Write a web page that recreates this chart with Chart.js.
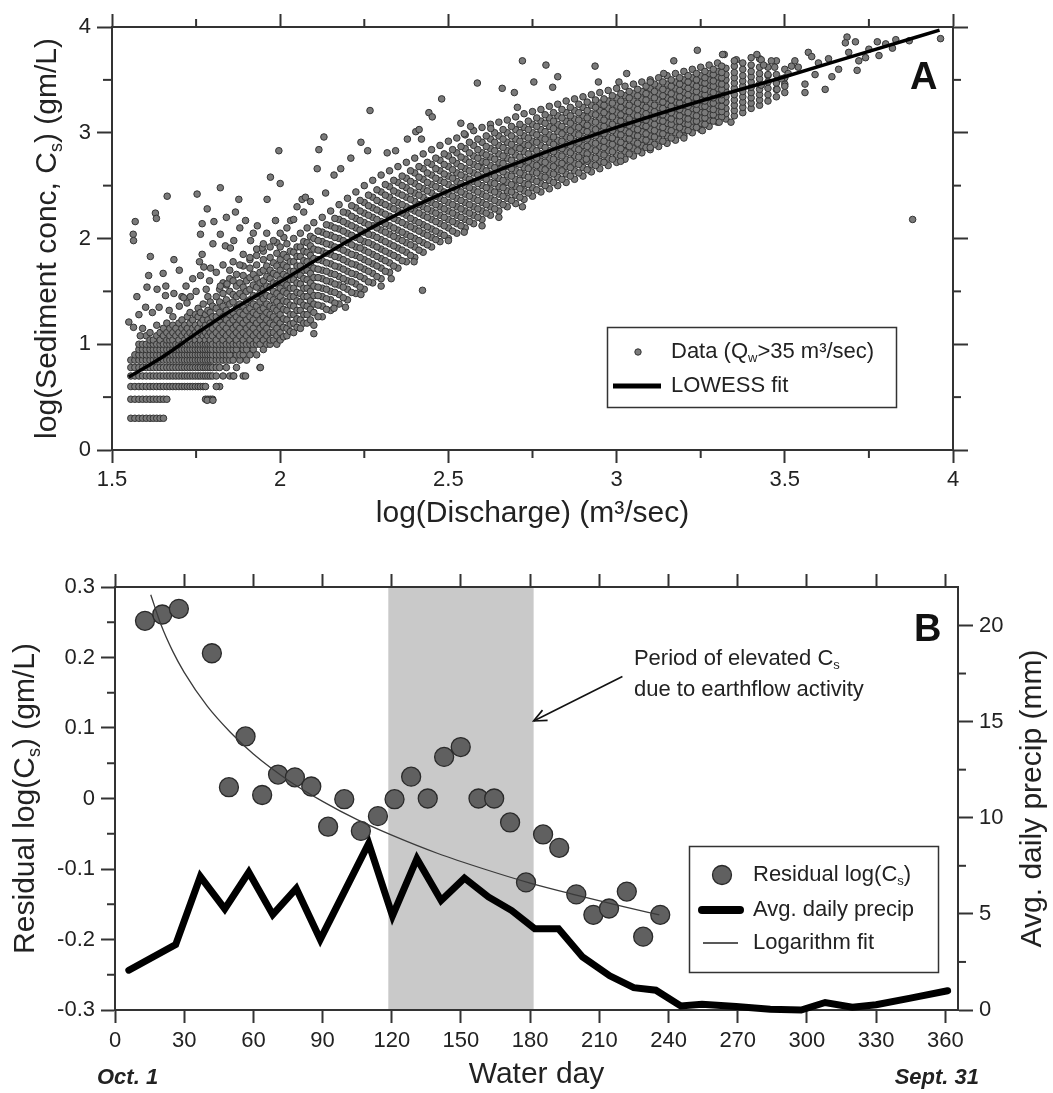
<!DOCTYPE html>
<html><head><meta charset="utf-8">
<script src="https://cdn.jsdelivr.net/npm/chart.js@4.4.1/dist/chart.umd.min.js"></script>
<style>
html,body{margin:0;padding:0;background:#fff;}
#wrap{position:relative;width:1053px;height:1093px;overflow:hidden;}
canvas{position:absolute;left:0;}
#ca{top:0;} #cb{top:545px;}
</style></head><body>
<div id="wrap"><canvas id="ca" width="1053" height="545"></canvas><canvas id="cb" width="1053" height="548"></canvas></div>
<script>
// ---------------- Panel A data ----------------
// columns: [logQ, logCs values...]
const lowColumns = [
[1.556,0.30,0.48,0.60,0.70,0.78,0.85],
[1.568,0.30,0.48,0.60,0.70,0.78,0.85,0.90],
[1.580,0.30,0.48,0.60,0.70,0.78,0.85,0.90,0.95,1.00],
[1.591,0.30,0.48,0.60,0.70,0.78,0.85,0.90,0.95,1.00,1.15],
[1.602,0.30,0.48,0.60,0.70,0.78,0.85,0.90,0.95,1.00,1.08],
[1.613,0.30,0.48,0.60,0.70,0.78,0.85,0.90,0.95,1.00,1.04,1.11],
[1.623,0.30,0.48,0.60,0.70,0.78,0.85,0.90,0.95,1.00,1.04],
[1.633,0.30,0.48,0.60,0.70,0.78,0.85,0.90,0.95,1.00,1.08,1.18],
[1.643,0.30,0.48,0.60,0.70,0.78,0.85,0.90,0.95,1.00,1.04,1.11],
[1.653,0.30,0.48,0.60,0.70,0.78,0.85,0.90,0.95,1.00,1.08,1.15],
[1.663,0.48,0.60,0.70,0.78,0.85,0.90,0.95,1.00,1.04,1.11,1.20],
[1.672,0.60,0.70,0.78,0.85,0.90,0.95,1.00,1.04,1.08,1.15],
[1.681,0.60,0.70,0.78,0.85,0.90,0.95,1.00,1.04,1.11,1.18,1.26],
[1.690,0.60,0.70,0.78,0.85,0.90,0.95,1.00,1.08,1.15],
[1.699,0.60,0.70,0.78,0.85,0.90,0.95,1.00,1.04,1.11,1.20],
[1.708,0.60,0.70,0.78,0.85,0.90,0.95,1.00,1.08,1.15,1.23],
[1.716,0.60,0.70,0.78,0.85,0.90,0.95,1.00,1.04,1.11,1.18],
[1.724,0.60,0.70,0.78,0.85,0.90,0.95,1.00,1.08,1.15,1.26],
[1.732,0.60,0.70,0.78,0.85,0.90,0.95,1.00,1.04,1.11,1.20,1.30],
[1.740,0.60,0.70,0.78,0.85,0.90,0.95,1.00,1.08,1.15,1.23],
[1.748,0.60,0.70,0.78,0.85,0.90,0.95,1.00,1.04,1.11,1.18,1.28],
[1.756,0.60,0.70,0.78,0.85,0.90,0.95,1.00,1.08,1.15,1.26,1.34],
[1.763,0.60,0.70,0.78,0.85,0.90,0.95,1.00,1.04,1.11,1.20,1.30],
[1.771,0.60,0.70,0.78,0.85,0.90,0.95,1.00,1.08,1.15,1.23,1.38],
[1.778,0.48,0.60,0.70,0.78,0.85,0.90,0.95,1.00,1.04,1.11,1.18,1.28],
[1.785,0.48,0.70,0.78,0.85,0.90,0.95,1.00,1.08,1.15,1.23,1.32,1.45],
[1.792,0.48,0.70,0.78,0.85,0.90,0.95,1.00,1.04,1.11,1.20,1.30,1.40],
[1.799,0.48,0.70,0.78,0.85,0.90,0.95,1.00,1.08,1.15,1.26,1.36]
];
const bandColumns = [
[1.81,0.70,0.78,0.85,0.90,0.95,1.00,1.04,1.11,1.18,1.26,1.34,1.45],
[1.82,0.60,0.78,0.85,0.90,0.95,1.00,1.08,1.15,1.23,1.30,1.40,1.52],
[1.83,0.70,0.85,0.90,0.95,1.00,1.04,1.11,1.18,1.26,1.36,1.48,1.58],
[1.84,0.78,0.85,0.90,0.95,1.00,1.08,1.15,1.23,1.32,1.42,1.56],
[1.85,0.70,0.85,0.90,0.95,1.00,1.04,1.11,1.20,1.28,1.38,1.50,1.62],
[1.86,0.70,0.85,0.95,1.00,1.08,1.15,1.23,1.30,1.40,1.47,1.60],
[1.87,0.78,0.90,0.95,1.00,1.04,1.11,1.18,1.26,1.34,1.45,1.55,1.66],
[1.88,0.85,0.90,1.00,1.08,1.15,1.23,1.30,1.38,1.48,1.58],
[1.89,0.70,0.90,0.95,1.00,1.04,1.11,1.20,1.28,1.36,1.45,1.54,1.65,1.74],
[1.90,0.85,0.95,1.00,1.08,1.15,1.23,1.32,1.40,1.50,1.60],
[1.91,0.90,1.00,1.04,1.11,1.18,1.26,1.34,1.42,1.52,1.63,1.72,1.80],
[1.92,0.95,1.00,1.08,1.15,1.23,1.30,1.38,1.46,1.56,1.66],
[1.93,0.90,1.00,1.04,1.11,1.20,1.28,1.36,1.45,1.54,1.62,1.75,1.84],
[1.94,0.78,1.00,1.08,1.15,1.23,1.32,1.40,1.48,1.58,1.68],
[1.95,0.95,1.04,1.11,1.18,1.26,1.34,1.43,1.52,1.60,1.70,1.80,1.88],
[1.96,1.00,1.08,1.15,1.23,1.30,1.38,1.46,1.55,1.64,1.74],
[1.97,1.00,1.04,1.11,1.20,1.28,1.36,1.45,1.54,1.62,1.70,1.82,1.92],
[1.98,1.04,1.11,1.18,1.26,1.34,1.42,1.50,1.58,1.67,1.77],
[1.99,1.00,1.08,1.15,1.23,1.32,1.40,1.48,1.57,1.65,1.74,1.86,1.96],
[2.00,1.04,1.11,1.20,1.28,1.36,1.45,1.53,1.61,1.70,1.80,1.92],
[2.01,1.07,1.16,1.24,1.33,1.41,1.50,1.58,1.66,1.75,1.85],
[2.02,1.08,1.15,1.23,1.32,1.40,1.48,1.56,1.64,1.73,1.82,1.95],
[2.03,1.12,1.19,1.28,1.37,1.45,1.53,1.61,1.69,1.78,1.88],
[2.04,1.11,1.20,1.28,1.36,1.45,1.53,1.61,1.69,1.78,1.87,2.00],
[2.05,1.16,1.24,1.32,1.41,1.49,1.58,1.66,1.74,1.83,1.92],
[2.06,1.15,1.23,1.32,1.40,1.48,1.57,1.65,1.74,1.83,1.92,2.05],
[2.07,1.20,1.28,1.37,1.45,1.53,1.62,1.70,1.79,1.88,1.97],
[2.08,1.20,1.28,1.36,1.45,1.53,1.61,1.70,1.78,1.87,1.96,2.10],
[2.09,1.23,1.33,1.41,1.50,1.58,1.67,1.75,1.84,1.93,2.02],
[2.10,1.18,1.30,1.38,1.46,1.55,1.63,1.72,1.81,1.90,2.00,2.15],
[2.125,1.26,1.36,1.45,1.53,1.62,1.70,1.79,1.88,1.97,2.06,2.20],
[2.15,1.32,1.42,1.50,1.59,1.67,1.76,1.85,1.94,2.03,2.12,2.26],
[2.175,1.38,1.47,1.56,1.64,1.73,1.82,1.91,2.00,2.09,2.18,2.32],
[2.20,1.42,1.52,1.60,1.69,1.78,1.87,1.96,2.05,2.14,2.24,2.38],
[2.225,1.48,1.57,1.66,1.75,1.84,1.92,2.01,2.10,2.19,2.29,2.44],
[2.25,1.52,1.62,1.71,1.80,1.89,1.97,2.06,2.15,2.24,2.34,2.50],
[2.275,1.58,1.67,1.76,1.85,1.94,2.03,2.12,2.20,2.29,2.39,2.55],
[2.30,1.62,1.72,1.81,1.90,1.99,2.08,2.16,2.25,2.34,2.44,2.60],
[2.325,1.68,1.77,1.86,1.95,2.04,2.12,2.21,2.30,2.39,2.49,2.64],
[2.35,1.72,1.82,1.91,2.00,2.08,2.17,2.26,2.34,2.43,2.53,2.68],
[2.375,1.78,1.87,1.96,2.04,2.13,2.22,2.30,2.39,2.48,2.57,2.72],
[2.40,1.82,1.92,2.00,2.09,2.17,2.26,2.35,2.43,2.52,2.62,2.76],
[2.425,1.87,1.96,2.05,2.13,2.22,2.30,2.39,2.47,2.56,2.66,2.80],
[2.45,1.92,2.01,2.09,2.18,2.26,2.34,2.43,2.51,2.60,2.70,2.84],
[2.475,1.97,2.05,2.14,2.22,2.30,2.38,2.47,2.55,2.64,2.74,2.88],
[2.50,2.00,2.10,2.18,2.26,2.34,2.42,2.51,2.59,2.68,2.78,2.92],
[2.525,2.05,2.14,2.22,2.30,2.38,2.46,2.54,2.62,2.71,2.81,2.95],
[2.55,2.10,2.18,2.26,2.34,2.42,2.50,2.58,2.66,2.75,2.85,2.98],
[2.575,2.14,2.22,2.30,2.38,2.46,2.54,2.62,2.70,2.78,2.88,3.02],
[2.60,2.18,2.26,2.34,2.42,2.50,2.58,2.66,2.73,2.81,2.91,3.05],
[2.625,2.22,2.30,2.38,2.46,2.53,2.61,2.69,2.77,2.85,2.94,3.08],
[2.65,2.26,2.34,2.42,2.49,2.57,2.65,2.72,2.80,2.88,2.97,3.10],
[2.675,2.30,2.38,2.45,2.53,2.60,2.68,2.76,2.83,2.91,3.00,3.12],
[2.70,2.33,2.41,2.49,2.56,2.64,2.71,2.79,2.86,2.94,3.03,3.15],
[2.725,2.37,2.45,2.52,2.60,2.67,2.74,2.82,2.89,2.97,3.05,3.18],
[2.75,2.40,2.48,2.56,2.63,2.70,2.77,2.85,2.92,3.00,3.08,3.20],
[2.775,2.44,2.52,2.59,2.66,2.73,2.80,2.88,2.95,3.03,3.11,3.22],
[2.80,2.47,2.55,2.62,2.69,2.76,2.83,2.91,2.98,3.06,3.14,3.25],
[2.825,2.50,2.58,2.65,2.72,2.79,2.86,2.93,3.01,3.08,3.16,3.27],
[2.85,2.53,2.61,2.68,2.75,2.82,2.89,2.96,3.03,3.11,3.19,3.30],
[2.875,2.56,2.64,2.71,2.78,2.85,2.92,2.99,3.06,3.13,3.21,3.32],
[2.90,2.59,2.67,2.74,2.81,2.88,2.95,3.02,3.09,3.16,3.24,3.34],
[2.925,2.63,2.70,2.77,2.84,2.91,2.98,3.04,3.11,3.18,3.26,3.36],
[2.95,2.66,2.73,2.80,2.87,2.94,3.00,3.07,3.14,3.21,3.28,3.38],
[2.975,2.69,2.76,2.83,2.90,2.96,3.03,3.10,3.16,3.23,3.30,3.40],
[3.00,2.72,2.79,2.86,2.93,2.99,3.06,3.12,3.19,3.26,3.33,3.42],
[3.025,2.75,2.82,2.89,2.95,3.02,3.08,3.15,3.21,3.28,3.35,3.44],
[3.05,2.78,2.85,2.92,2.98,3.04,3.11,3.17,3.24,3.30,3.37,3.46],
[3.075,2.81,2.88,2.94,3.01,3.07,3.13,3.20,3.26,3.32,3.39,3.48],
[3.10,2.84,2.91,2.97,3.03,3.10,3.16,3.22,3.28,3.35,3.42,3.50],
[3.125,2.87,2.94,3.00,3.06,3.12,3.18,3.24,3.31,3.37,3.44,3.52],
[3.15,2.90,2.97,3.03,3.09,3.15,3.21,3.27,3.33,3.39,3.46,3.54],
[3.175,2.93,3.00,3.06,3.11,3.17,3.23,3.29,3.35,3.42,3.48,3.56],
[3.20,2.97,3.03,3.09,3.14,3.20,3.26,3.32,3.38,3.44,3.50,3.58],
[3.225,3.00,3.06,3.11,3.17,3.23,3.28,3.34,3.40,3.46,3.52,3.60],
[3.25,3.03,3.09,3.14,3.20,3.25,3.31,3.37,3.42,3.48,3.54,3.62],
[3.275,3.06,3.12,3.17,3.23,3.28,3.34,3.39,3.45,3.50,3.56,3.64],
[3.30,3.10,3.15,3.20,3.26,3.31,3.36,3.42,3.47,3.53,3.58,3.66],
[3.325,3.13,3.18,3.23,3.29,3.34,3.39,3.44,3.50,3.55,3.61],
[3.35,3.16,3.21,3.26,3.31,3.36,3.42,3.47,3.52,3.57,3.63],
[3.375,3.19,3.24,3.29,3.34,3.39,3.44,3.49,3.54,3.60,3.66],
[3.40,3.23,3.28,3.33,3.38,3.43,3.48,3.53,3.58,3.64],
[3.425,3.26,3.31,3.36,3.41,3.46,3.51,3.56,3.62,3.70],
[3.45,3.30,3.36,3.42,3.48,3.54,3.62],
[3.475,3.34,3.41,3.47,3.55,3.68],
[3.50,3.38,3.46,3.52,3.60]
];
const midColumns = [
[2.1125,1.26,1.37,1.46,1.54,1.63,1.71,1.80,1.89,1.98,2.07],
[2.1375,1.33,1.43,1.52,1.60,1.69,1.77,1.86,1.95,2.04,2.13],
[2.1625,1.39,1.49,1.57,1.66,1.74,1.83,1.92,2.01,2.10,2.19],
[2.1875,1.44,1.54,1.62,1.71,1.80,1.89,1.98,2.07,2.16,2.25],
[2.2125,1.49,1.59,1.67,1.76,1.85,1.94,2.03,2.12,2.21,2.31],
[2.2375,1.54,1.64,1.73,1.82,1.91,1.99,2.08,2.17,2.26,2.36],
[2.2625,1.59,1.69,1.78,1.87,1.96,2.04,2.13,2.22,2.31,2.41],
[2.2875,1.64,1.74,1.83,1.92,2.01,2.10,2.18,2.27,2.36,2.46],
[2.3125,1.69,1.79,1.88,1.97,2.06,2.14,2.23,2.32,2.41,2.51],
[2.3375,1.74,1.84,1.93,2.02,2.10,2.19,2.28,2.36,2.45,2.55],
[2.3625,1.79,1.89,1.98,2.06,2.15,2.24,2.32,2.41,2.50,2.59],
[2.3875,1.84,1.94,2.02,2.11,2.19,2.28,2.37,2.45,2.54,2.64],
[2.4125,1.89,1.98,2.07,2.15,2.24,2.32,2.41,2.49,2.58,2.68],
[2.4375,1.94,2.03,2.11,2.20,2.28,2.36,2.45,2.53,2.62,2.72],
[2.4625,1.99,2.07,2.16,2.24,2.32,2.40,2.49,2.57,2.66,2.76],
[2.4875,2.03,2.12,2.20,2.28,2.36,2.44,2.53,2.61,2.70,2.80],
[2.5125,2.07,2.16,2.24,2.32,2.40,2.48,2.57,2.65,2.74,2.84],
[2.5375,2.12,2.20,2.28,2.36,2.44,2.52,2.60,2.68,2.77,2.87],
[2.5625,2.16,2.24,2.32,2.40,2.48,2.56,2.64,2.72,2.81,2.91],
[2.5875,2.20,2.28,2.36,2.44,2.52,2.60,2.68,2.76,2.84,2.94],
[2.6125,2.24,2.32,2.40,2.48,2.56,2.64,2.72,2.79,2.87,2.97],
[2.6375,2.28,2.36,2.44,2.52,2.59,2.67,2.75,2.83,2.91,3.00],
[2.6625,2.32,2.40,2.48,2.55,2.63,2.71,2.78,2.86,2.94,3.03],
[2.6875,2.36,2.44,2.51,2.59,2.66,2.74,2.82,2.89,2.97,3.06],
[2.7125,2.39,2.47,2.55,2.62,2.70,2.77,2.85,2.92,3.00,3.08],
[2.7375,2.43,2.51,2.58,2.66,2.73,2.80,2.88,2.95,3.03,3.11],
[2.7625,2.46,2.54,2.62,2.69,2.76,2.83,2.91,2.98,3.06,3.14],
[2.7875,2.50,2.58,2.65,2.72,2.79,2.86,2.94,3.01,3.09,3.17],
[2.8125,2.53,2.61,2.68,2.75,2.82,2.89,2.96,3.04,3.11,3.19],
[2.8375,2.56,2.64,2.71,2.78,2.85,2.92,2.99,3.06,3.14,3.22],
[2.8625,2.59,2.67,2.74,2.81,2.88,2.95,3.02,3.09,3.16,3.24],
[2.8875,2.62,2.70,2.77,2.84,2.91,2.98,3.05,3.12,3.19,3.27],
[2.9125,2.65,2.73,2.80,2.87,2.94,3.01,3.07,3.14,3.21,3.29],
[2.9375,2.69,2.76,2.83,2.90,2.97,3.03,3.10,3.17,3.24,3.31],
[2.9625,2.72,2.79,2.86,2.92,2.99,3.06,3.12,3.19,3.26,3.32],
[2.9875,2.75,2.82,2.89,2.95,3.02,3.08,3.15,3.21,3.28,3.35],
[3.0125,2.78,2.85,2.91,2.98,3.04,3.11,3.17,3.24,3.30,3.37],
[3.0375,2.80,2.87,2.94,3.00,3.07,3.13,3.20,3.26,3.33,3.39],
[3.0625,2.83,2.90,2.97,3.03,3.09,3.16,3.22,3.28,3.35,3.41],
[3.0875,2.86,2.93,2.99,3.06,3.12,3.18,3.24,3.31,3.37,3.44],
[3.1125,2.89,2.96,3.02,3.08,3.14,3.20,3.26,3.33,3.39,3.46],
[3.1375,2.92,2.99,3.05,3.11,3.17,3.23,3.29,3.35,3.41,3.48],
[3.1625,2.95,3.02,3.08,3.13,3.19,3.25,3.31,3.37,3.44,3.50],
[3.1875,2.98,3.05,3.11,3.16,3.22,3.28,3.34,3.40,3.46,3.52],
[3.2125,3.02,3.08,3.13,3.19,3.25,3.30,3.36,3.42,3.48,3.54],
[3.2375,3.05,3.11,3.16,3.22,3.27,3.33,3.39,3.44,3.50,3.56],
[3.2625,3.08,3.14,3.19,3.25,3.30,3.36,3.41,3.47,3.52,3.58],
[3.2875,3.11,3.17,3.22,3.28,3.33,3.38,3.44,3.49,3.55,3.60],
[3.3125,3.15,3.20,3.25,3.31,3.36,3.41,3.46,3.52,3.57,3.63]
];
const outlierX = [1.569,1.563,1.564,1.629,1.632,1.664,1.684,1.614,1.609,1.652,1.634,1.604,1.574,1.659,1.684,1.708,1.733,1.753,1.763,1.768,1.783,1.803,1.822,1.822,1.837,1.852,1.862,1.867,1.877,1.897,1.912,1.932,1.946,1.961,1.971,1.986,1.996,2.000,2.011,2.031,1.768,1.773,1.793,1.763,1.822,1.842,1.713,1.723,1.550,1.564,1.584,
1.62,1.64,1.67,1.70,1.72,1.74,1.75,1.78,1.79,1.81,1.83,1.85,1.86,1.88,1.89,1.91,1.93,1.95,1.96,1.98,2.00,2.02,2.04,2.05,2.07,2.09,1.92,1.88,1.84,1.80,1.76,1.70,1.66,1.60,1.58,
2.065,2.075,2.11,2.115,2.13,2.135,2.16,2.18,2.21,2.24,2.267,2.26,2.318,2.343,2.378,2.403,2.413,2.42,2.442,2.452,2.48,2.537,2.566,2.586,2.626,2.66,2.696,2.705,2.547,
2.423,2.398,2.547,2.24,2.16,2.194,1.941,1.897,1.862,1.81,1.783,1.80,2.10,2.30,2.33,2.50,2.60,2.65,
2.72,2.79,2.825,2.936,2.946,3.007,3.03,3.10,3.14,3.17,3.24,3.32,3.356,2.754,2.81,3.315,3.35,3.40,3.417,3.43,3.437,
3.012,3.255,3.305,3.34,2.91,2.72,3.20,3.10,
3.43,3.477,3.49,3.51,3.52,3.53,3.57,3.56,3.56,3.59,3.62,3.64,3.685,3.71,3.69,3.72,3.715,3.74,3.775,3.80,3.83,3.87,3.88,3.963,3.54,3.60,3.66,3.68,3.50,3.47,3.45,3.46,3.58,3.63,3.75,3.78,3.82];
const outlierY = [2.16,2.04,1.98,2.24,2.19,2.40,1.80,1.83,1.65,1.67,1.52,1.54,1.45,1.46,1.48,1.45,1.45,2.42,2.04,2.14,2.28,2.16,2.48,2.04,1.93,1.91,1.98,2.25,2.37,2.17,1.98,2.12,1.91,2.37,2.58,2.17,2.83,2.52,2.01,2.17,1.85,1.73,1.72,1.65,1.55,1.57,1.44,1.39,1.21,1.16,1.08,
1.30,1.35,1.32,1.36,1.55,1.62,1.50,1.52,1.60,1.68,1.75,1.70,1.78,1.75,1.85,1.82,1.90,1.95,2.05,1.98,2.05,2.10,2.18,2.30,2.25,2.35,2.05,2.10,2.20,1.95,1.78,1.70,1.55,1.35,1.28,
2.37,2.39,2.66,2.84,2.96,2.43,2.60,2.66,2.76,2.91,3.21,2.83,2.81,2.83,2.94,3.01,3.03,2.94,3.19,3.15,3.32,3.09,3.06,3.47,3.04,3.42,3.38,3.24,2.99,
1.51,1.78,2.06,1.47,1.34,1.35,0.78,0.70,0.70,0.60,0.47,0.47,1.10,1.55,1.62,1.98,2.12,2.20,
3.68,3.64,3.53,3.63,3.48,3.48,3.56,3.48,3.56,3.68,3.78,3.74,3.69,3.48,3.43,3.74,3.68,3.71,3.74,3.69,3.64,
2.73,3.02,3.10,3.10,2.75,2.30,2.95,2.86,
3.45,3.41,3.51,3.56,3.63,3.68,3.76,3.46,3.38,3.55,3.41,3.53,3.905,3.86,3.76,3.68,3.59,3.71,3.86,3.84,3.88,3.87,2.18,3.89,3.62,3.66,3.60,3.85,3.44,3.62,3.55,3.68,3.72,3.70,3.79,3.73,3.80];
const lowessX = [1.55,1.65,1.75,1.85,2.00,2.15,2.30,2.50,2.75,3.00,3.25,3.50,3.75,3.96];
const lowessY = [0.69,0.88,1.10,1.31,1.59,1.88,2.15,2.45,2.77,3.05,3.30,3.53,3.77,3.97];
const aXMajor = [1.5,2,2.5,3,3.5,4];
const aXLabels = ['1.5','2','2.5','3','3.5','4'];
const aXMinor = [1.75,2.25,2.75,3.25,3.75];
const aYMajor = [0,1,2,3,4];
const aYLabels = ['0','1','2','3','4'];
const aYMinor = [0.5,1.5,2.5,3.5];

// ---------------- Panel B data ----------------
const residDay = [13,20.5,27.7,42,49.4,56.6,63.8,70.7,78,85.1,92.4,99.4,106.6,114,121.2,128.4,135.6,142.7,149.9,157.6,164.4,171.3,178.2,185.6,192.6,200,207.4,214.2,221.9,229,236.4];
const residVal = [0.252,0.261,0.269,0.206,0.016,0.088,0.005,0.034,0.030,0.017,-0.040,-0.001,-0.046,-0.025,-0.001,0.031,0.000,0.059,0.073,0.000,0.000,-0.034,-0.119,-0.051,-0.070,-0.136,-0.165,-0.156,-0.132,-0.196,-0.165];
const fitDay = [15.5,20,25,30,40,50,60,75,90,105,120,140,160,180,200,220,236];
const fitVal = [0.289,0.246,0.209,0.179,0.131,0.094,0.063,0.026,-0.004,-0.030,-0.052,-0.078,-0.100,-0.120,-0.137,-0.153,-0.165];
const precipDay = [6,26.3,37,47.6,58,68.4,78.6,89,110,120.3,130.9,141.4,151.5,161.9,172,182,192.3,202.7,214.5,224.9,234.5,245.3,254.5,269.3,284.1,297.5,307.9,319.7,330,344.9,361];
const precipMm = [2.07,3.40,6.94,5.26,7.16,4.96,6.32,3.67,8.66,4.90,7.87,5.70,6.86,5.88,5.17,4.23,4.23,2.76,1.78,1.16,1.03,0.21,0.30,0.18,0.04,0.00,0.39,0.14,0.27,0.62,1.00];
const shadeDays = [118.5,181.5];
const bXMajor = [0,30,60,90,120,150,180,210,240,270,300,330,360];
const bXLabels = ['0','30','60','90','120','150','180','210','240','270','300','330','360'];
const bYMajor = [-0.3,-0.2,-0.1,0,0.1,0.2,0.3];
const bYLabels = ['-0.3','-0.2','-0.1','0','0.1','0.2','0.3'];
const bYMinor = [-0.25,-0.15,-0.05,0.05,0.15,0.25];
const bY2Major = [0,5,10,15,20];
const bY2Labels = ['0','5','10','15','20'];
const bY2Minor = [2.5,7.5,12.5,17.5];
const annoPos = [225, 0.198, 0.154];       // day, line1 value, line2 value
const arrowFrom = [220, 0.173], arrowTo = [181.5, 0.110];

// ---------------- helpers ----------------
const FONT = "'Liberation Sans', Arial, Helvetica, sans-serif";
const near = (a, b) => Math.abs(a - b) < 1e-9;

function rich(ctx, parts, x, y, size, align, rot, style) {
  ctx.save();
  ctx.translate(x, y);
  if (rot) ctx.rotate(rot);
  ctx.fillStyle = '#222';
  ctx.textBaseline = 'middle';
  ctx.textAlign = 'left';
  const fontOf = sub => (style ? style + ' ' : '') + Math.round(sub ? size * 0.6 : size) + 'px ' + FONT;
  const widths = parts.map(p => { ctx.font = fontOf(p[1]); return ctx.measureText(p[0]).width; });
  const total = widths.reduce((a, b) => a + b, 0);
  let cx = align === 'center' ? -total / 2 : (align === 'right' ? -total : 0);
  parts.forEach((p, i) => { ctx.font = fontOf(p[1]); ctx.fillText(p[0], cx, p[1] ? size * 0.3 : 0); cx += widths[i]; });
  ctx.restore();
}

function mkAxis(o) {
  const major = o.major, minor = o.minor || [], labels = o.labels;
  const all = major.concat(minor).sort((a, b) => a - b);
  return {
    type: 'linear', axis: o.axis, position: o.position, min: o.min, max: o.max,
    afterBuildTicks: s => { s.ticks = all.map(v => ({value: v})); },
    afterFit: s => { if (o.axis === 'x') s.height = o.size; else s.width = o.size; },
    ticks: {
      display: !!labels, autoSkip: false, maxRotation: 0, minRotation: 0,
      padding: o.pad || 0, color: '#222', font: {family: FONT, size: 22},
      callback: v => { if (!labels) return ''; const i = major.findIndex(m => near(m, v)); return i >= 0 ? labels[i] : ''; }
    },
    grid: {
      display: true, drawOnChartArea: false, drawTicks: true, tickLength: o.tl, tickWidth: 2,
      color: 'rgba(0,0,0,0)',
      tickColor: c => (c.tick && major.some(m => near(m, c.tick.value))) ? '#333' : 'rgba(0,0,0,0)'
    },
    border: {display: true, color: '#333', width: 2},
    title: o.title ? {display: true, text: o.title, color: '#222', font: {family: FONT, size: 30}, padding: o.titlePad} : {display: false}
  };
}

function minorTickPlugin(list) {
  return {
    id: 'minorTicks',
    afterDraw(chart) {
      const ctx = chart.ctx;
      ctx.save(); ctx.strokeStyle = '#333'; ctx.lineWidth = 2;
      list.forEach(([id, vals, len]) => {
        const s = chart.scales[id];
        vals.forEach(v => {
          const p = s.getPixelForValue(v);
          ctx.beginPath();
          if (s.position === 'bottom') { ctx.moveTo(p, s.top); ctx.lineTo(p, s.top + len); }
          else if (s.position === 'top') { ctx.moveTo(p, s.bottom); ctx.lineTo(p, s.bottom - len); }
          else if (s.position === 'left') { ctx.moveTo(s.right, p); ctx.lineTo(s.right - len, p); }
          else { ctx.moveTo(s.left, p); ctx.lineTo(s.left + len, p); }
          ctx.stroke();
        });
      });
      ctx.restore();
    }
  };
}

// ---------------- Panel A ----------------
const scatterPts = [];
[lowColumns, bandColumns, midColumns].forEach(tbl => tbl.forEach(col => {
  for (let k = 1; k < col.length; k++) scatterPts.push({x: col[0], y: col[k]});
}));
outlierX.forEach((x, i) => scatterPts.push({x, y: outlierY[i]}));
const lowessPts = lowessX.map((x, i) => ({x, y: lowessY[i]}));

const decoA = {
  id: 'decoA',
  afterDraw(chart) {
    const {ctx, chartArea: ca} = chart;
    rich(ctx, [['log(Sediment conc, C'], ['s', 1], [') (gm/L)']], 48, (ca.top + ca.bottom) / 2, 30, 'center', -Math.PI / 2);
    ctx.save();
    ctx.font = 'bold 38px ' + FONT; ctx.fillStyle = '#111'; ctx.textAlign = 'left'; ctx.textBaseline = 'alphabetic';
    ctx.fillText('A', 910, 89);
    ctx.strokeStyle = '#333'; ctx.lineWidth = 1.5; ctx.strokeRect(607.5, 327.5, 289, 80);
    ctx.beginPath(); ctx.arc(638, 352, 3.2, 0, Math.PI * 2);
    ctx.fillStyle = '#7a7a7a'; ctx.fill(); ctx.strokeStyle = '#333'; ctx.lineWidth = 1; ctx.stroke();
    ctx.beginPath(); ctx.moveTo(613, 386); ctx.lineTo(661, 386); ctx.lineWidth = 5; ctx.strokeStyle = '#000'; ctx.stroke();
    ctx.restore();
    rich(ctx, [['Data (Q'], ['w', 1], ['>35 m³/sec)']], 671, 352, 22, 'left', 0);
    rich(ctx, [['LOWESS fit']], 671, 386, 22, 'left', 0);
  }
};

new Chart(document.getElementById('ca'), {
  type: 'scatter',
  data: {datasets: [
    {label: 'LOWESS fit', data: lowessPts, showLine: true, borderColor: '#000', borderWidth: 3.5, pointRadius: 0, cubicInterpolationMode: 'monotone', order: 0},
    {label: 'Data (Qw>35 m³/sec)', data: scatterPts, pointRadius: 3.3, pointBackgroundColor: '#7a7a7a', pointBorderColor: '#333', pointBorderWidth: 1, order: 1}
  ]},
  options: {
    responsive: false, animation: false, events: [], devicePixelRatio: 1,
    layout: {padding: 0},
    plugins: {legend: {display: false}, tooltip: {enabled: false}},
    scales: {
      x: mkAxis({axis: 'x', position: 'bottom', min: 1.5, max: 4, major: aXMajor, minor: aXMinor, labels: aXLabels, size: 95, tl: 13, pad: 4,
        title: 'log(Discharge) (m³/sec)', titlePad: {top: 0, bottom: 13}}),
      xTop: mkAxis({axis: 'x', position: 'top', min: 1.5, max: 4, major: aXMajor, minor: aXMinor, size: 27, tl: 13}),
      y: mkAxis({axis: 'y', position: 'left', min: 0, max: 4, major: aYMajor, minor: aYMinor, labels: aYLabels, size: 112, tl: 15, pad: 6}),
      yRight: mkAxis({axis: 'y', position: 'right', min: 0, max: 4, major: aYMajor, minor: aYMinor, size: 100, tl: 15})
    }
  },
  plugins: [minorTickPlugin([['x', aXMinor, 8], ['xTop', aXMinor, 8], ['y', aYMinor, 9], ['yRight', aYMinor, 8]]), decoA]
});

// ---------------- Panel B ----------------
const residPts = residDay.map((x, i) => ({x, y: residVal[i]}));
const fitPts = fitDay.map((x, i) => ({x, y: fitVal[i]}));
const precipPts = precipDay.map((x, i) => ({x, y: precipMm[i]}));

const decoB = {
  id: 'decoB',
  beforeDraw(chart) {
    const {ctx, chartArea: ca, scales} = chart;
    const x1 = scales.x.getPixelForValue(shadeDays[0]), x2 = scales.x.getPixelForValue(shadeDays[1]);
    ctx.save(); ctx.fillStyle = '#c9c9c9'; ctx.fillRect(x1, ca.top, x2 - x1, ca.bottom - ca.top); ctx.restore();
  },
  afterDraw(chart) {
    const {ctx, chartArea: ca, scales} = chart;
    const cy = (ca.top + ca.bottom) / 2;
    rich(ctx, [['Residual log(C'], ['s', 1], [') (gm/L)']], 26, cy, 30, 'center', -Math.PI / 2);
    rich(ctx, [['Avg. daily precip (mm)']], 1033, cy, 30, 'center', -Math.PI / 2);
    ctx.save();
    ctx.font = 'bold 38px ' + FONT; ctx.fillStyle = '#111'; ctx.textAlign = 'left'; ctx.textBaseline = 'alphabetic';
    ctx.fillText('B', 914, 96);
    ctx.font = 'italic bold 22px ' + FONT; ctx.fillStyle = '#222';
    ctx.fillText('Oct. 1', 97, 539);
    ctx.textAlign = 'right'; ctx.fillText('Sept. 31', 979, 539);
    ctx.restore();
    const X = scales.x, Y = scales.y;
    const ax = X.getPixelForValue(annoPos[0]);
    rich(ctx, [['Period of elevated C'], ['s', 1]], ax, Y.getPixelForValue(annoPos[1]), 22, 'left', 0);
    rich(ctx, [['due to earthflow activity']], ax, Y.getPixelForValue(annoPos[2]), 22, 'left', 0);
    const tx = X.getPixelForValue(arrowFrom[0]), ty = Y.getPixelForValue(arrowFrom[1]);
    const hx = X.getPixelForValue(arrowTo[0]), hy = Y.getPixelForValue(arrowTo[1]);
    const ang = Math.atan2(hy - ty, hx - tx);
    ctx.save(); ctx.strokeStyle = '#111'; ctx.lineWidth = 1.6;
    ctx.beginPath(); ctx.moveTo(tx, ty); ctx.lineTo(hx, hy); ctx.stroke();
    ctx.beginPath();
    ctx.moveTo(hx - 14 * Math.cos(ang - 0.42), hy - 14 * Math.sin(ang - 0.42));
    ctx.lineTo(hx, hy);
    ctx.lineTo(hx - 14 * Math.cos(ang + 0.42), hy - 14 * Math.sin(ang + 0.42));
    ctx.stroke();
    // legend
    ctx.strokeStyle = '#333'; ctx.lineWidth = 1.5; ctx.strokeRect(689.5, 301.5, 249, 126);
    ctx.beginPath(); ctx.arc(722, 330, 9.5, 0, Math.PI * 2);
    ctx.fillStyle = '#606060'; ctx.fill(); ctx.strokeStyle = '#2a2a2a'; ctx.lineWidth = 1.3; ctx.stroke();
    ctx.beginPath(); ctx.moveTo(702, 365); ctx.lineTo(740, 365); ctx.lineWidth = 8; ctx.lineCap = 'round'; ctx.strokeStyle = '#000'; ctx.stroke();
    ctx.beginPath(); ctx.moveTo(703, 398); ctx.lineTo(738, 398); ctx.lineWidth = 1.3; ctx.lineCap = 'butt'; ctx.strokeStyle = '#222'; ctx.stroke();
    ctx.restore();
    rich(ctx, [['Residual log(C'], ['s', 1], [')']], 753, 330, 22, 'left', 0);
    rich(ctx, [['Avg. daily precip']], 753, 365, 22, 'left', 0);
    rich(ctx, [['Logarithm fit']], 753, 398, 22, 'left', 0);
  }
};

new Chart(document.getElementById('cb'), {
  type: 'scatter',
  data: {datasets: [
    {label: 'Logarithm fit', data: fitPts, showLine: true, borderColor: '#3a3a3a', borderWidth: 1.3, pointRadius: 0, cubicInterpolationMode: 'monotone', order: 0},
    {label: 'Residual log(Cs)', data: residPts, pointRadius: 9.5, pointBackgroundColor: '#606060', pointBorderColor: '#2a2a2a', pointBorderWidth: 1.3, order: 1},
    {label: 'Avg. daily precip', data: precipPts, yAxisID: 'yRight', showLine: true, borderColor: '#000', borderWidth: 7, pointRadius: 0, tension: 0,
      borderJoinStyle: 'miter', borderCapStyle: 'round', clip: {left: 0, top: 0, right: 0, bottom: 5}, order: 2}
  ]},
  options: {
    responsive: false, animation: false, events: [], devicePixelRatio: 1,
    layout: {padding: 0},
    plugins: {legend: {display: false}, tooltip: {enabled: false}},
    scales: {
      x: mkAxis({axis: 'x', position: 'bottom', min: 0, max: 365.5, major: bXMajor, labels: bXLabels, size: 83, tl: 13, pad: 5,
        title: 'Water day', titlePad: {top: 0, bottom: 0}}),
      xTop: mkAxis({axis: 'x', position: 'top', min: 0, max: 365.5, major: bXMajor, size: 42, tl: 13}),
      y: mkAxis({axis: 'y', position: 'left', min: -0.3, max: 0.3, major: bYMajor, minor: bYMinor, labels: bYLabels, size: 115, tl: 14, pad: 6}),
      yRight: mkAxis({axis: 'y', position: 'right', min: 0, max: 22, major: bY2Major, minor: bY2Minor, labels: bY2Labels, size: 95, tl: 15, pad: 6})
    }
  },
  plugins: [minorTickPlugin([['y', bYMinor, 8], ['yRight', bY2Minor, 8]]), decoB]
});
</script></body></html>
